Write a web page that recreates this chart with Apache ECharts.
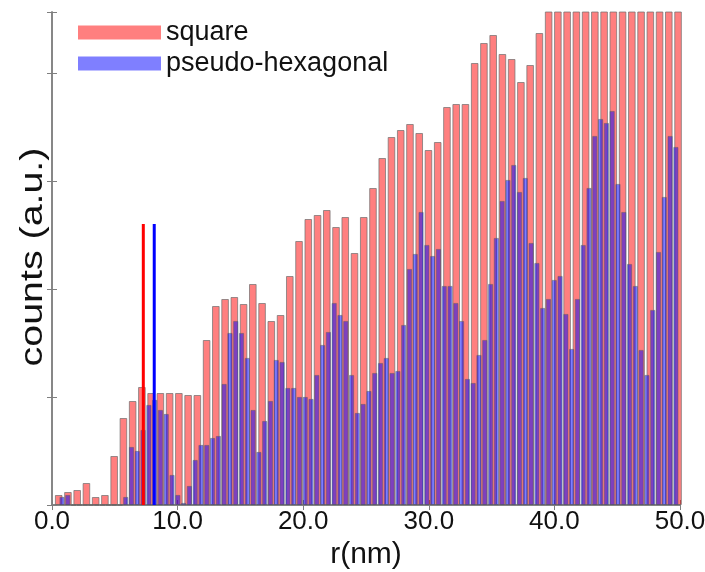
<!DOCTYPE html>
<html>
<head>
<meta charset="utf-8">
<script src="https://cdn.jsdelivr.net/npm/echarts@6/dist/echarts.min.js"></script>
<style>
html,body{margin:0;padding:0;background:#fff;}
#chart{width:705px;height:572px;}
</style>
</head>
<body>
<div id="chart"></div>
<script>
// Bin layout (nm): first bin centre and bin width for each histogram
const squareStart = 0.533, squareStep = 0.736;
const hexStart = 0.796, hexStep = 0.4611;

// counts (a.u.) for the square lattice, one per bin
const squareCounts = [10,13,15,22,8,10,49,87,104,118,112,112,112,112,110,110,165,199,206,208,
  201,221,202,184,190,229,264,286,290,295,278,288,252,288,317,347,368,375,381,372,
  355,363,398,401,401,442,462,470,451,446,423,440,472,
  520,520,520,520,520,520,520,520,520,520,520,520,520,520,520];

// counts (a.u.) for the pseudo-hexagonal lattice, one per bin
const hexCounts = [8,10,0,0,0,0,0,0,0,0,
  0,8,58,54,75,100,105,95,91,30,
  10,2,19,45,60,60,67,69,121,172,
  184,172,147,95,53,84,104,145,143,117,
  117,108,108,106,130,160,173,202,190,184,
  130,92,101,114,132,142,147,132,134,180,
  236,251,293,260,249,256,219,219,202,184,
  126,122,150,165,221,267,304,325,340,313,
  327,262,242,197,206,225,229,191,156,206,
  260,317,369,386,382,394,321,293,241,219,
  155,130,195,253,308,369,358];

// marker lines (nm, height a.u.)
const squarePeak = 7.27, hexPeak = 8.14, peakLineHeight = 281;

const xTicks = [0,10,20,30,40,50];
const yTitle = 'counts (a.u.)';
const xTitle = 'r(nm)';

const squareBins = squareCounts.map((_, i) => +(squareStart + i * squareStep).toFixed(3));
const hexBins = hexCounts.map((_, i) => +(hexStart + i * hexStep).toFixed(3));

const chart = echarts.init(document.getElementById('chart'), null, {renderer: 'canvas'});
const frame = {show: true, lineStyle: {color: '#7f7f7f', width: 1.5}};
const font = 'Liberation Sans, Arial, sans-serif';

chart.setOption({
  animation: false,
  grid: {left: 52, right: 25, top: 12, bottom: 67, containLabel: false, outerBoundsMode: 'none'},
  legend: {
    left: 73, top: 14, orient: 'vertical', itemWidth: 83, itemHeight: 14, itemGap: 4,
    icon: 'rect',
    data: ['square', 'pseudo-hexagonal'],
    itemStyle: {borderWidth: 0},
    textStyle: {fontFamily: font, fontSize: 27, color: '#111'}
  },
  graphic: [{
    type: 'text', x: 33, y: 257, rotation: Math.PI / 2, scaleX: 1.23, scaleY: 1,
    style: {text: yTitle, x: 0, y: 0, align: 'center', verticalAlign: 'middle',
      font: '32px ' + font, fill: '#111'}
  }],
  xAxis: [{
    type: 'value', min: 0, max: 50, interval: 10, position: 'bottom',
    axisLine: frame,
    axisTick: {show: true, inside: true, length: 5, lineStyle: {color: '#7f7f7f'}},
    splitLine: {show: false},
    axisLabel: {fontFamily: font, fontSize: 26, color: '#111', margin: 4,
      formatter: v => xTicks.includes(v) ? v.toFixed(1) : ''},
    name: xTitle, nameLocation: 'middle', nameGap: 32,
    nameTextStyle: {fontFamily: font, fontSize: 30, color: '#111', verticalAlign: 'top'}
  }, {
    type: 'value', min: 0, max: 50, interval: 10, position: 'top',
    axisLine: frame,
    axisTick: {show: true, inside: true, length: 5, lineStyle: {color: '#7f7f7f'}},
    splitLine: {show: false}, axisLabel: {show: false}
  }],
  yAxis: [{
    type: 'value', min: 0, max: 493, interval: 108, position: 'left',
    axisLine: frame,
    axisTick: {show: true, inside: true, length: 5, lineStyle: {color: '#7f7f7f'}},
    splitLine: {show: false}, axisLabel: {show: false}
  }, {
    type: 'value', min: 0, max: 493, interval: 108, position: 'right',
    axisLine: frame,
    axisTick: {show: true, inside: true, length: 5, lineStyle: {color: '#7f7f7f'}},
    splitLine: {show: false}, axisLabel: {show: false}
  }],
  series: [{
    name: 'square', type: 'bar', xAxisIndex: 0, yAxisIndex: 0, clip: true,
    barWidth: 7.6,
    itemStyle: {color: 'rgba(255,0,0,0.5)', borderColor: 'rgba(110,110,110,0.7)', borderWidth: 1},
    data: squareBins.map((x, i) => [x, squareCounts[i]])
  }, {
    name: 'pseudo-hexagonal', type: 'bar', xAxisIndex: 1, yAxisIndex: 0, clip: true,
    barWidth: 5,
    itemStyle: {color: 'rgba(0,0,255,0.5)', borderColor: 'rgba(90,90,90,0.6)', borderWidth: 0.8},
    data: hexBins.map((x, i) => [x, hexCounts[i]])
  }, {
    name: 'squarePeak', type: 'line', xAxisIndex: 0, yAxisIndex: 0, symbol: 'none',
    lineStyle: {color: '#ff0000', width: 3}, z: 5,
    data: [[squarePeak, 0], [squarePeak, peakLineHeight]]
  }, {
    name: 'hexPeak', type: 'line', xAxisIndex: 0, yAxisIndex: 0, symbol: 'none',
    lineStyle: {color: '#0000ff', width: 3}, z: 5,
    data: [[hexPeak, 0], [hexPeak, peakLineHeight]]
  }]
});
</script>
</body>
</html>
